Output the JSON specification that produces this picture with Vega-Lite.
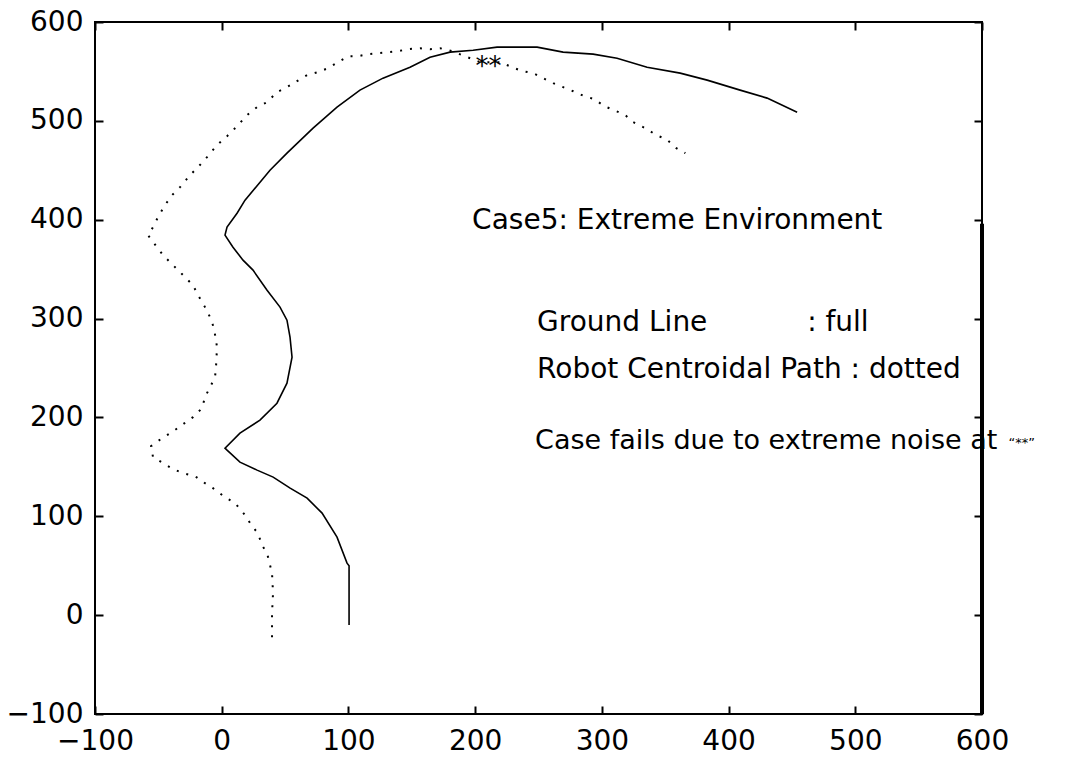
{
  "$schema": "https://vega.github.io/schema/vega-lite/v6.json",
  "width": 887,
  "height": 692,
  "autosize": "none",
  "padding": {"left": 95, "top": 22, "right": 86, "bottom": 43},
  "background": "white",
  "config": {
    "view": {"stroke": "#000", "strokeWidth": 2},
    "axis": {
      "domain": false,
      "grid": false,
      "ticks": true,
      "tickColor": "#000",
      "tickWidth": 2,
      "tickSize": -8,
      "labelPadding": 20,
      "labelFont": "DejaVu Sans",
      "labelFontSize": 28,
      "labelColor": "#000",
      "labelFlush": false,
      "title": null
    }
  },
  "datasets": {
    "ground": [
      {"i": 0, "x": 100.5, "y": -10},
      {"i": 1, "x": 100.5, "y": 50},
      {"i": 2, "x": 98.9, "y": 52.6},
      {"i": 3, "x": 91.0, "y": 78.9},
      {"i": 4, "x": 79.2, "y": 103.2},
      {"i": 5, "x": 67.4, "y": 118.4},
      {"i": 6, "x": 54.0, "y": 128.5},
      {"i": 7, "x": 40.6, "y": 139.6},
      {"i": 8, "x": 27.9, "y": 146.7},
      {"i": 9, "x": 14.4, "y": 154.8},
      {"i": 10, "x": 4.2, "y": 166.9},
      {"i": 11, "x": 2.6, "y": 168.9},
      {"i": 12, "x": 14.4, "y": 184.1},
      {"i": 13, "x": 30.2, "y": 197.3},
      {"i": 14, "x": 43.6, "y": 214.4},
      {"i": 15, "x": 51.5, "y": 234.7},
      {"i": 16, "x": 55.5, "y": 261.0},
      {"i": 17, "x": 53.9, "y": 281.2},
      {"i": 18, "x": 51.5, "y": 298.4},
      {"i": 19, "x": 46.0, "y": 311.6},
      {"i": 20, "x": 35.8, "y": 328.7},
      {"i": 21, "x": 24.7, "y": 349.0},
      {"i": 22, "x": 16.8, "y": 359.1},
      {"i": 23, "x": 8.9, "y": 372.2},
      {"i": 24, "x": 2.6, "y": 384.4},
      {"i": 25, "x": 4.2, "y": 392.5},
      {"i": 26, "x": 12.1, "y": 406.6},
      {"i": 27, "x": 18.4, "y": 419.8},
      {"i": 28, "x": 38.1, "y": 450.1},
      {"i": 29, "x": 51.5, "y": 467.3},
      {"i": 30, "x": 72.1, "y": 492.6},
      {"i": 31, "x": 91.0, "y": 513.9},
      {"i": 32, "x": 109.1, "y": 531.1},
      {"i": 33, "x": 127.3, "y": 543.2},
      {"i": 34, "x": 148.6, "y": 554.3},
      {"i": 35, "x": 164.4, "y": 564.4},
      {"i": 36, "x": 180.2, "y": 569.5},
      {"i": 37, "x": 198.4, "y": 571.5},
      {"i": 38, "x": 217.3, "y": 574.6},
      {"i": 39, "x": 248.9, "y": 574.6},
      {"i": 40, "x": 269.4, "y": 569.5},
      {"i": 41, "x": 293.1, "y": 567.5},
      {"i": 42, "x": 312.0, "y": 563.4},
      {"i": 43, "x": 335.7, "y": 554.3},
      {"i": 44, "x": 361.8, "y": 548.3},
      {"i": 45, "x": 383.1, "y": 541.2},
      {"i": 46, "x": 409.1, "y": 531.1},
      {"i": 47, "x": 430.4, "y": 523.0},
      {"i": 48, "x": 454.1, "y": 508.8}
    ],
    "robot": [
      {"i": 0, "x": 39.7, "y": -22.3},
      {"i": 1, "x": 39.7, "y": 2.0},
      {"i": 2, "x": 40.5, "y": 22.3},
      {"i": 3, "x": 39.7, "y": 42.5},
      {"i": 4, "x": 35.8, "y": 62.7},
      {"i": 5, "x": 31.8, "y": 70.8},
      {"i": 6, "x": 28.6, "y": 82.9},
      {"i": 7, "x": 23.9, "y": 90.0},
      {"i": 8, "x": 18.4, "y": 101.2},
      {"i": 9, "x": 10.5, "y": 113.3},
      {"i": 10, "x": 2.6, "y": 119.4},
      {"i": 11, "x": -6.9, "y": 128.5},
      {"i": 12, "x": -13.2, "y": 133.5},
      {"i": 13, "x": -21.1, "y": 140.6},
      {"i": 14, "x": -30.5, "y": 143.6},
      {"i": 15, "x": -38.4, "y": 147.7},
      {"i": 16, "x": -46.3, "y": 153.8},
      {"i": 17, "x": -54.2, "y": 159.8},
      {"i": 18, "x": -55.8, "y": 170.9},
      {"i": 19, "x": -47.1, "y": 179.0},
      {"i": 20, "x": -39.2, "y": 185.1},
      {"i": 21, "x": -30.5, "y": 193.2},
      {"i": 22, "x": -22.7, "y": 200.3},
      {"i": 23, "x": -15.5, "y": 209.4},
      {"i": 24, "x": -13.2, "y": 220.5},
      {"i": 25, "x": -9.2, "y": 230.6},
      {"i": 26, "x": -5.3, "y": 240.7},
      {"i": 27, "x": -4.5, "y": 250.9},
      {"i": 28, "x": -3.7, "y": 271.1},
      {"i": 29, "x": -6.1, "y": 290.3},
      {"i": 30, "x": -9.2, "y": 301.4},
      {"i": 31, "x": -13.2, "y": 311.6},
      {"i": 32, "x": -18.7, "y": 323.7},
      {"i": 33, "x": -22.7, "y": 333.8},
      {"i": 34, "x": -30.5, "y": 343.9},
      {"i": 35, "x": -38.4, "y": 354.0},
      {"i": 36, "x": -46.3, "y": 364.2},
      {"i": 37, "x": -51.1, "y": 372.2},
      {"i": 38, "x": -58.2, "y": 384.4},
      {"i": 39, "x": -54.2, "y": 392.5},
      {"i": 40, "x": -50.3, "y": 402.6},
      {"i": 41, "x": -44.8, "y": 414.7},
      {"i": 42, "x": -39.2, "y": 424.8},
      {"i": 43, "x": -32.9, "y": 432.9},
      {"i": 44, "x": -25.0, "y": 445.1},
      {"i": 45, "x": -18.7, "y": 453.2},
      {"i": 46, "x": -11.6, "y": 463.3},
      {"i": 47, "x": -3.7, "y": 475.4},
      {"i": 48, "x": 4.2, "y": 484.5},
      {"i": 49, "x": 12.1, "y": 494.6},
      {"i": 50, "x": 20.0, "y": 505.8},
      {"i": 51, "x": 27.9, "y": 513.9},
      {"i": 52, "x": 35.8, "y": 518.9},
      {"i": 53, "x": 43.6, "y": 529.0},
      {"i": 54, "x": 51.5, "y": 534.1},
      {"i": 55, "x": 59.4, "y": 540.2},
      {"i": 56, "x": 67.3, "y": 546.2},
      {"i": 57, "x": 76.0, "y": 549.3},
      {"i": 58, "x": 83.9, "y": 553.3},
      {"i": 59, "x": 91.8, "y": 559.4},
      {"i": 60, "x": 99.7, "y": 565.4},
      {"i": 61, "x": 107.6, "y": 565.4},
      {"i": 62, "x": 115.5, "y": 567.5},
      {"i": 63, "x": 123.4, "y": 568.5},
      {"i": 64, "x": 131.3, "y": 569.5},
      {"i": 65, "x": 139.2, "y": 570.5},
      {"i": 66, "x": 147.1, "y": 572.5},
      {"i": 67, "x": 156.5, "y": 573.5},
      {"i": 68, "x": 164.4, "y": 572.5},
      {"i": 69, "x": 172.3, "y": 573.5},
      {"i": 70, "x": 181.8, "y": 570.5},
      {"i": 71, "x": 192.0, "y": 565.4},
      {"i": 72, "x": 203.9, "y": 559.4},
      {"i": 73, "x": 219.7, "y": 559.4},
      {"i": 74, "x": 229.2, "y": 554.3},
      {"i": 75, "x": 237.1, "y": 550.3},
      {"i": 76, "x": 245.8, "y": 548.3},
      {"i": 77, "x": 253.7, "y": 543.2},
      {"i": 78, "x": 261.6, "y": 538.1},
      {"i": 79, "x": 269.5, "y": 534.1},
      {"i": 80, "x": 277.4, "y": 530.0},
      {"i": 81, "x": 286.1, "y": 525.0},
      {"i": 82, "x": 294.0, "y": 522.0},
      {"i": 83, "x": 301.9, "y": 514.9},
      {"i": 84, "x": 309.8, "y": 510.8},
      {"i": 85, "x": 318.5, "y": 505.8},
      {"i": 86, "x": 324.8, "y": 498.7},
      {"i": 87, "x": 334.3, "y": 492.6},
      {"i": 88, "x": 343.0, "y": 485.5},
      {"i": 89, "x": 350.9, "y": 481.5},
      {"i": 90, "x": 358.8, "y": 472.4},
      {"i": 91, "x": 365.9, "y": 467.3}
    ],
    "notes": [
      {"x": 197.6, "y": 390.5, "label": "Case5: Extreme Environment"},
      {"x": 248.9, "y": 287.3, "label": "Ground Line"},
      {"x": 462.0, "y": 287.3, "label": ": full"},
      {"x": 248.9, "y": 239.7, "label": "Robot Centroidal Path : dotted"}
    ],
    "verdict": [
      {"x": 247.3, "y": 167.9, "label": "Case fails due to extreme noise at"}
    ],
    "quoted": [
      {"x": 621.0, "y": 170.0, "label": "“**”"}
    ],
    "failure": [
      {"x": 210.5, "y": 546.5, "label": "**"}
    ],
    "edge": [
      {"x": 600, "y": -100, "y2": 396}
    ]
  },
  "layer": [
    {
      "data": {"name": "ground"},
      "mark": {"type": "line", "color": "#000", "strokeWidth": 1.6},
      "encoding": {
        "x": {
          "field": "x", "type": "quantitative",
          "scale": {"domain": [-100, 600], "nice": false, "zero": false},
          "axis": {"orient": "bottom", "values": [-100, 0, 100, 200, 300, 400, 500, 600], "labelPadding": 21}
        },
        "y": {
          "field": "y", "type": "quantitative",
          "scale": {"domain": [-100, 600], "nice": false, "zero": false},
          "axis": {"orient": "left", "values": [-100, 0, 100, 200, 300, 400, 500, 600], "labelPadding": 20}
        },
        "order": {"field": "i", "type": "quantitative"}
      }
    },
    {
      "data": {"name": "robot"},
      "mark": {"type": "line", "color": "#000", "strokeWidth": 2, "strokeDash": [2, 8], "strokeCap": "butt"},
      "encoding": {
        "x": {
          "field": "x", "type": "quantitative",
          "scale": {"domain": [-100, 600], "nice": false, "zero": false},
          "axis": {"orient": "top", "values": [-100, 0, 100, 200, 300, 400, 500, 600], "labels": false}
        },
        "y": {
          "field": "y", "type": "quantitative",
          "scale": {"domain": [-100, 600], "nice": false, "zero": false},
          "axis": {"orient": "right", "values": [-100, 0, 100, 200, 300, 400, 500, 600], "labels": false}
        },
        "order": {"field": "i", "type": "quantitative"}
      }
    },
    {
      "data": {"name": "edge"},
      "mark": {"type": "rule", "color": "#000", "strokeWidth": 4},
      "encoding": {
        "x": {"field": "x", "type": "quantitative", "axis": null},
        "y": {"field": "y", "type": "quantitative", "axis": null},
        "y2": {"field": "y2"}
      }
    },
    {
      "data": {"name": "notes"},
      "mark": {"type": "text", "font": "DejaVu Sans", "fontSize": 28, "color": "#000", "align": "left", "baseline": "alphabetic"},
      "encoding": {
        "x": {"field": "x", "type": "quantitative", "axis": null},
        "y": {"field": "y", "type": "quantitative", "axis": null},
        "text": {"field": "label"}
      }
    },
    {
      "data": {"name": "verdict"},
      "mark": {"type": "text", "font": "DejaVu Sans", "fontSize": 27, "color": "#000", "align": "left", "baseline": "alphabetic"},
      "encoding": {
        "x": {"field": "x", "type": "quantitative", "axis": null},
        "y": {"field": "y", "type": "quantitative", "axis": null},
        "text": {"field": "label"}
      }
    },
    {
      "data": {"name": "quoted"},
      "mark": {"type": "text", "font": "DejaVu Sans", "fontSize": 13, "color": "#000", "align": "left", "baseline": "alphabetic"},
      "encoding": {
        "x": {"field": "x", "type": "quantitative", "axis": null},
        "y": {"field": "y", "type": "quantitative", "axis": null},
        "text": {"field": "label"}
      }
    },
    {
      "data": {"name": "failure"},
      "mark": {"type": "text", "font": "DejaVu Sans", "fontSize": 26, "color": "#000", "align": "center", "baseline": "alphabetic"},
      "encoding": {
        "x": {"field": "x", "type": "quantitative", "axis": null},
        "y": {"field": "y", "type": "quantitative", "axis": null},
        "text": {"field": "label"}
      }
    }
  ],
  "resolve": {"axis": {"x": "independent", "y": "independent"}}
}
